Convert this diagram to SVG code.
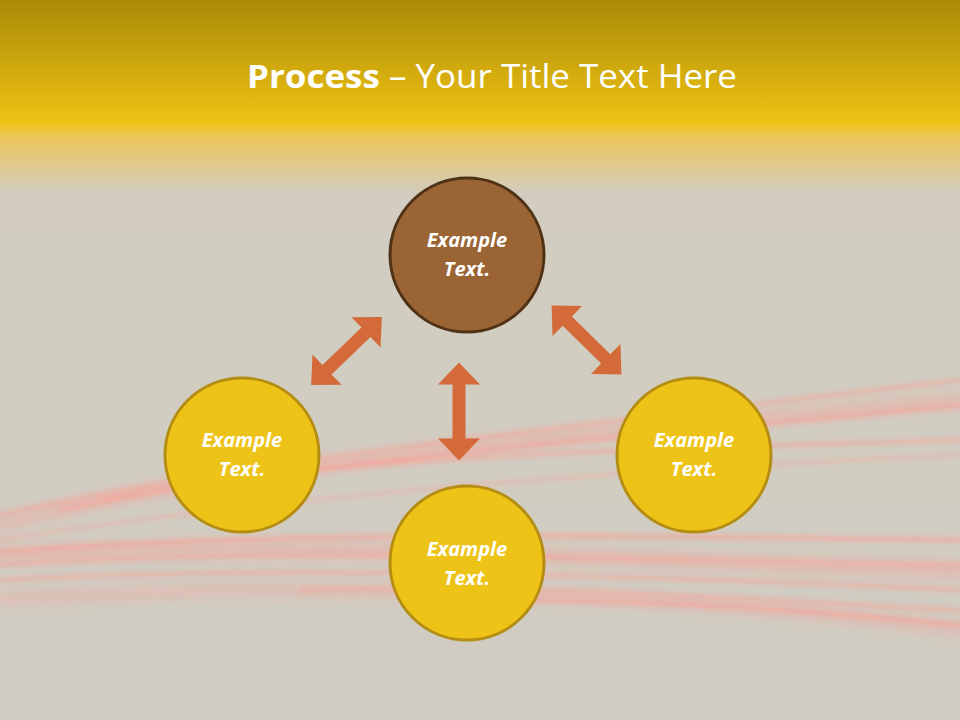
<svg xmlns="http://www.w3.org/2000/svg" width="960" height="720" viewBox="0 0 960 720">
<defs>
<linearGradient id="bg" x1="0" y1="0" x2="0" y2="1">
<stop offset="0" stop-color="#a98a07"/>
<stop offset="0.17" stop-color="#efc213"/>
<stop offset="0.19" stop-color="#ecc65a"/>
<stop offset="0.27" stop-color="#d2cdc0"/>
<stop offset="1" stop-color="#d0ccc2"/>
</linearGradient>
<filter id="blur" x="-10%" y="-50%" width="120%" height="200%"><feGaussianBlur stdDeviation="2.5"/></filter>
<filter id="blur2" x="-10%" y="-50%" width="120%" height="200%"><feGaussianBlur stdDeviation="6"/></filter>
<polygon id="dbl" points="-49,0 -27,-21 -27,-6.5 27,-6.5 27,-21 49,0 27,21 27,6.5 -27,6.5 -27,21"/>
<style>
.yc{fill:#eec318;stroke:#b58d12;stroke-width:3}
.bc{fill:#9a6434;stroke:#4f3215;stroke-width:3}
.lbl{font-family:"Open Sans","Liberation Sans",sans-serif;font-weight:bold;font-style:italic;font-size:20px;fill:#ffffff;text-anchor:middle}
.arr{fill:#d4693a}
.st{fill:none;stroke:#f7a39a;stroke-linecap:round}
</style>
</defs>
<rect x="0" y="0" width="960" height="720" fill="url(#bg)"/>
<g id="streaks" opacity="0.85">
<g filter="url(#blur2)">
<path class="st" d="M0,525 C200,470 500,440 960,400" stroke-width="14" opacity="0.5"/>
<path class="st" d="M0,555 C300,540 600,560 960,570" stroke-width="16" opacity="0.5"/>
<path class="st" d="M0,600 C300,580 650,590 960,630" stroke-width="14" opacity="0.4"/>
</g>
<g filter="url(#blur)">
<path class="st" d="M0,515 C200,470 450,440 960,380" stroke-width="3"/>
<path class="st" d="M60,510 C300,460 600,440 960,405" stroke-width="4"/>
<path class="st" d="M100,500 C350,455 600,450 960,440" stroke-width="3"/>
<path class="st" d="M0,540 C250,500 600,470 960,455" stroke-width="2"/>
<path class="st" d="M0,552 C300,530 600,535 960,540" stroke-width="4" stroke="#f6dcb6"/>
<path class="st" d="M0,565 C300,545 600,560 960,565" stroke-width="3"/>
<path class="st" d="M0,580 C250,565 650,575 960,590" stroke-width="3" stroke="#f4e0b4"/>
<path class="st" d="M300,590 C550,585 750,600 960,610" stroke-width="3"/>
<path class="st" d="M500,600 C700,600 850,615 960,625" stroke-width="4"/>
</g>
</g>
<text x="492" y="88" font-family="Open Sans,Liberation Sans,sans-serif" font-size="33" fill="#ffffff" text-anchor="middle" textLength="490" lengthAdjust="spacingAndGlyphs"><tspan font-weight="bold">Process</tspan> – Your Title Text Here</text>
<g id="connectors">
<use href="#dbl" class="arr" transform="translate(459,411.5) rotate(90)"/>
<use href="#dbl" class="arr" transform="translate(346.5,351) rotate(-43.8)"/>
<use href="#dbl" class="arr" transform="translate(586.5,340) rotate(44.6)"/>
</g>
<g id="n_top"><circle cx="467" cy="255" r="77" class="bc"/><text class="lbl" x="467" y="247">Example</text><text class="lbl" x="467" y="276">Text.</text></g>
<g id="n_left"><circle cx="242" cy="455" r="77" class="yc"/><text class="lbl" x="242" y="447">Example</text><text class="lbl" x="242" y="476">Text.</text></g>
<g id="n_right"><circle cx="694" cy="455" r="77" class="yc"/><text class="lbl" x="694" y="447">Example</text><text class="lbl" x="694" y="476">Text.</text></g>
<g id="n_bottom"><circle cx="467" cy="563" r="77" class="yc"/><text class="lbl" x="467" y="556">Example</text><text class="lbl" x="467" y="585">Text.</text></g>
</svg>
